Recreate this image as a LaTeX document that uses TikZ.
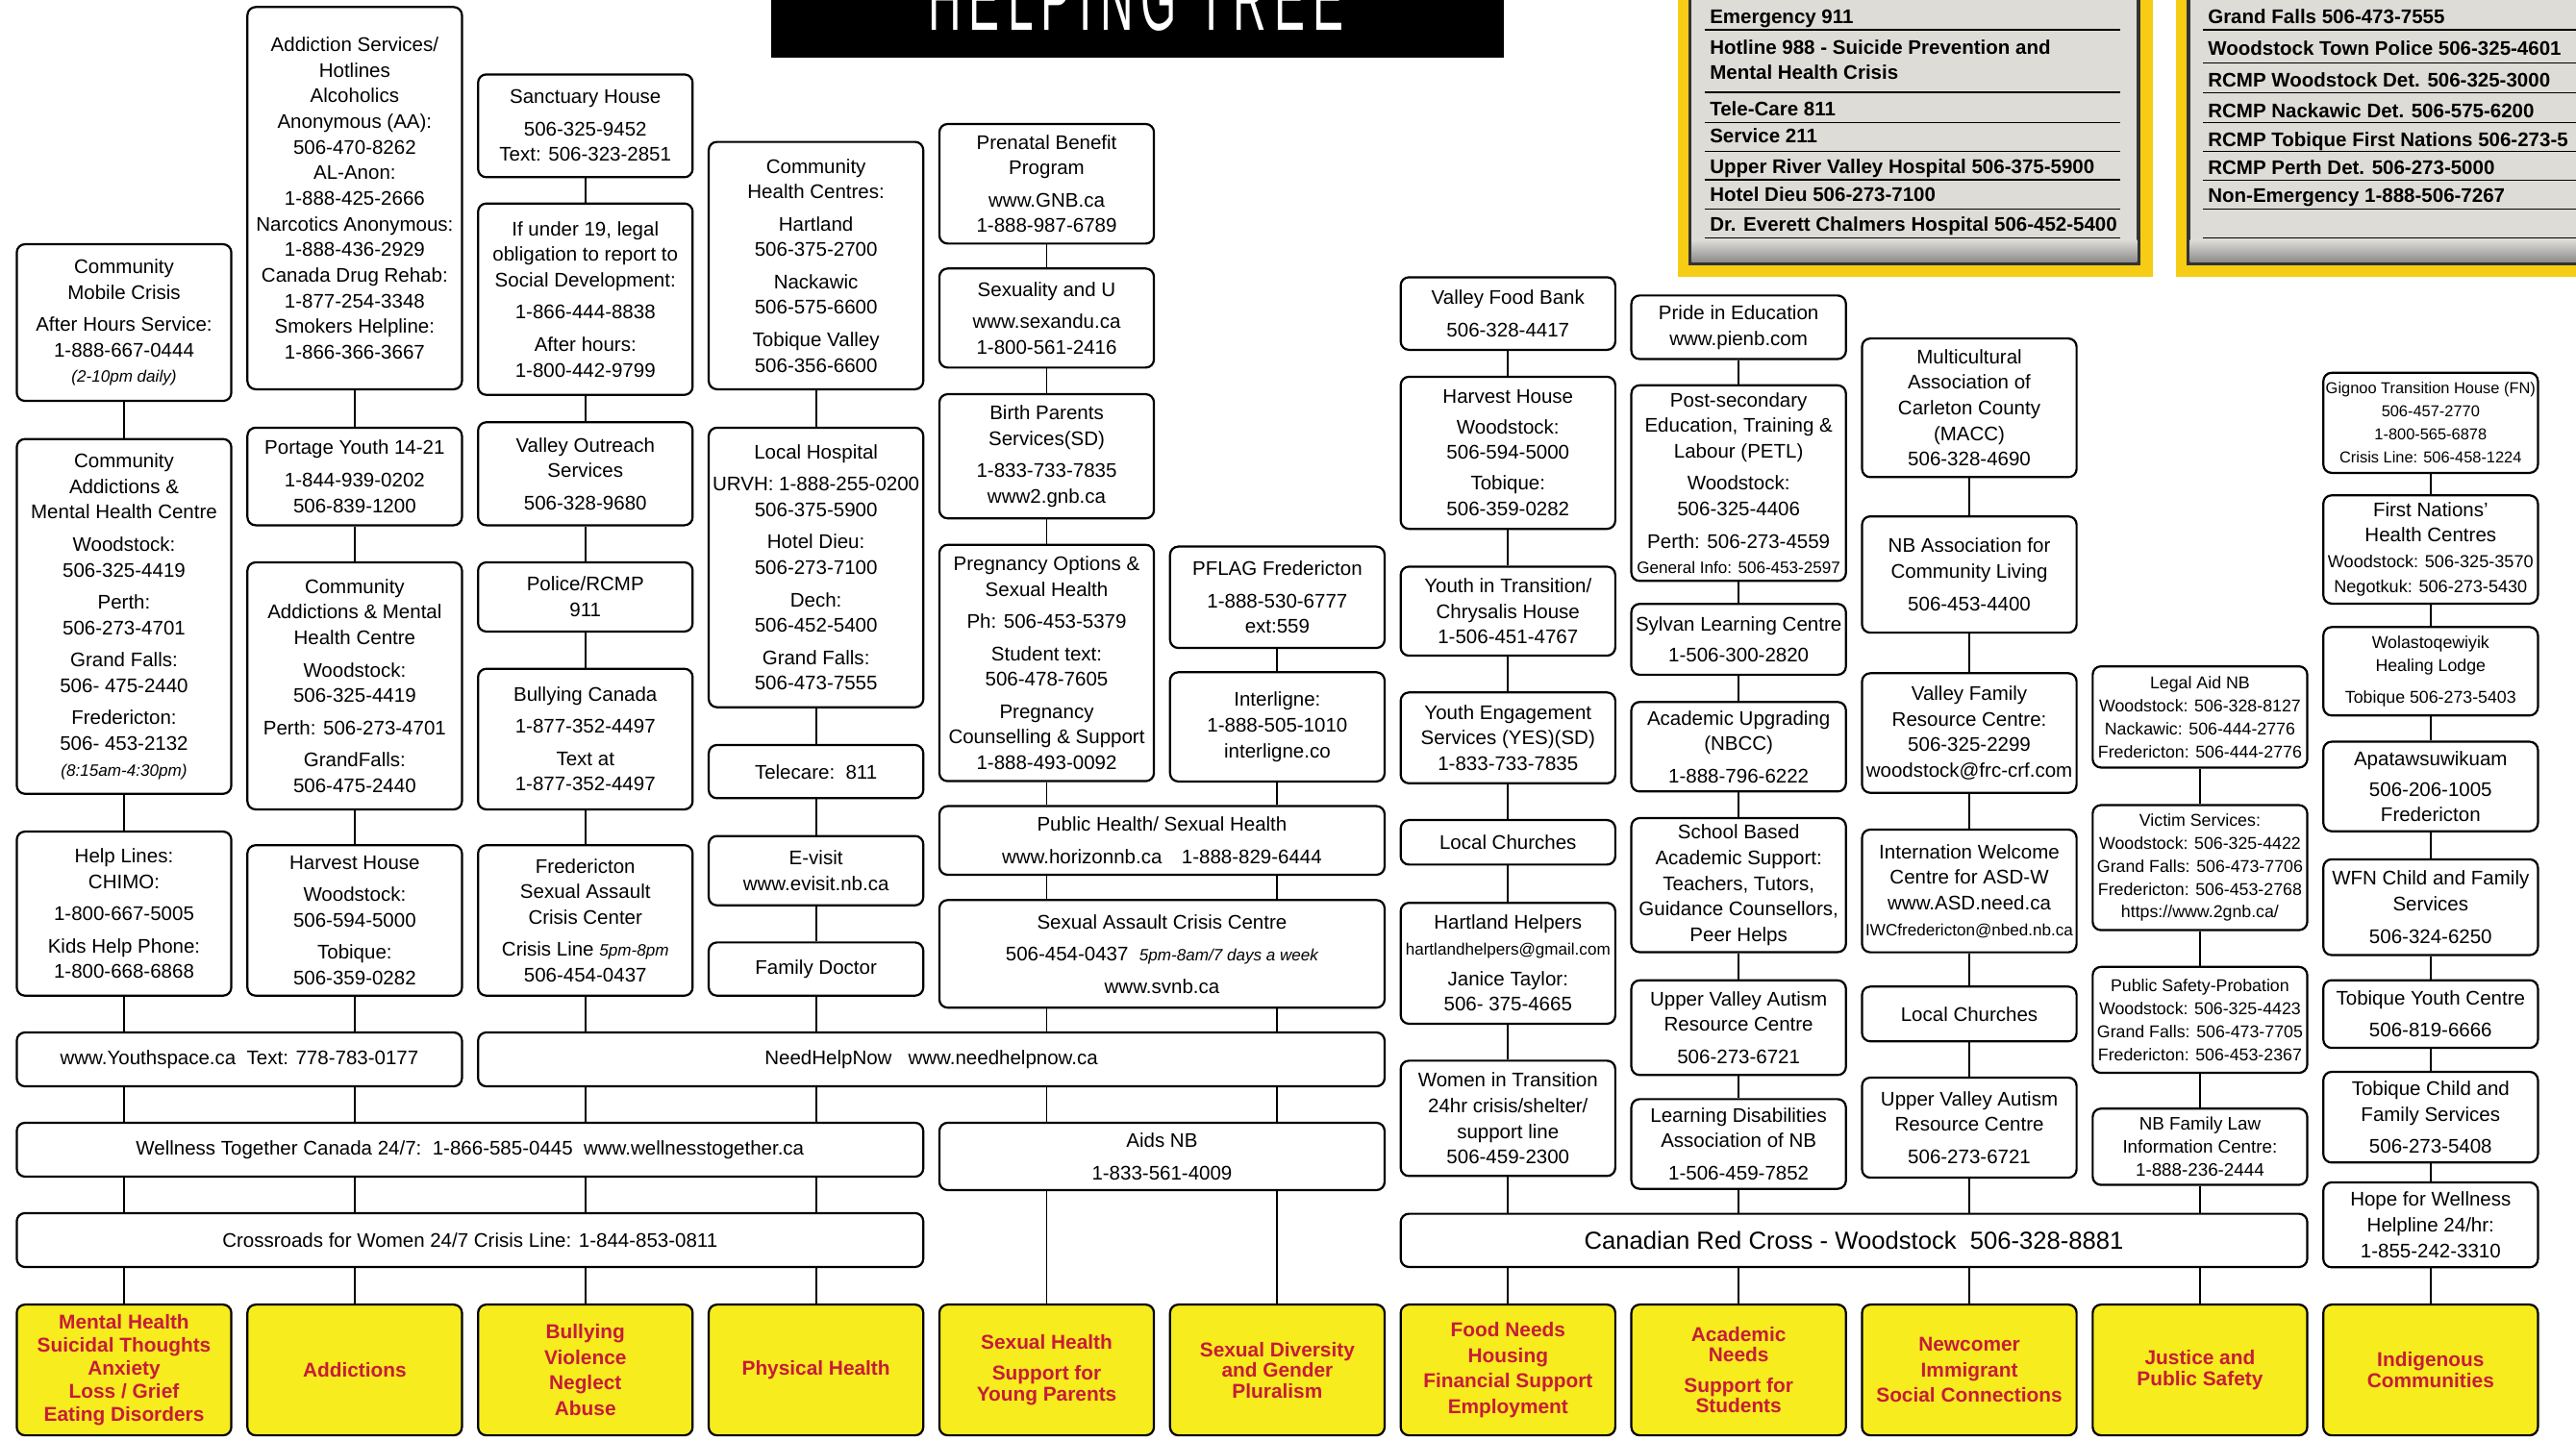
\documentclass[tikz,border=0pt]{standalone}
\usepackage{fontspec}
\setmainfont{Liberation Sans}
\usetikzlibrary{positioning}
\definecolor{needyellow}{RGB}{246,236,30}
\definecolor{needred}{RGB}{198,28,56}
\definecolor{panelyellow}{RGB}{247,204,20}
\definecolor{paper}{RGB}{221,220,215}
\newcommand{\hrs}[1]{{\itshape\fontsize{10}{13}\selectfont #1}}
\newcommand{\smtxt}[1]{{\fontsize{10}{13}\selectfont #1}}

\begin{document}
\begin{tikzpicture}[x=1pt,y=-1pt,
  box/.style={draw,rounded corners=5pt,line width=1.3pt,fill=white,align=center,
    inner sep=1pt,minimum width=130.6pt,font=\fontsize{12}{15.6}\selectfont},
  sbox/.style={box,font=\fontsize{10.4}{14}\selectfont},
  bar/.style={box,minimum height=32.8pt},
  need/.style={box,fill=needyellow,text=needred,minimum height=79.6pt,
    font=\bfseries\fontsize{12.2}{12.6}\selectfont},
  link/.style={line width=1.1pt},
  ptext/.style={anchor=base west,inner sep=0pt,font=\bfseries\fontsize{12}{14}\selectfont},
  prule/.style={line width=0.9pt},
  ]
  \useasboundingbox (0,0) rectangle (1568,877);
  \clip (0,0) rectangle (1568,877);

  % title
  \fill[black] (469.4,-2) rectangle (915.4,35.1);
  \begin{scope}
    \clip (469.4,-2) rectangle (915.4,35.1);
    \node[anchor=base,text=white,inner sep=0pt,font=\fontsize{56}{60}\selectfont] (title) at (691.5,18.5)
      {\scalebox{0.5}[1]{\addfontfeature{LetterSpace=17}HELPING TREE}};
  \end{scope}

  % phone lists
  \fill[panelyellow] (1021.5,-5) rectangle (1310.4,168.8);
  \fill[panelyellow] (1324.7,-5) rectangle (1575,168.8);
  \filldraw[fill=paper,draw=black!80,line width=2pt] (1028.7,-5) rectangle (1301.7,160.4);
  \filldraw[fill=paper,draw=black!80,line width=2pt] (1332,-5) rectangle (1580,160.4);
  \shade[top color=paper,bottom color=black!45] (1029.7,146) rectangle (1300.7,159.4);
  \shade[top color=paper,bottom color=black!45] (1333,146) rectangle (1579,159.4);
  \foreach \y in {18,56.2,74.5,92.1,109.6,127.2,144.8}
    \draw[prule] (1037.5,\y) -- (1290.5,\y);
  \foreach \y in {18,38.4,56.6,74.5,92.1,109.8,127.2,144.8}
    \draw[prule] (1341,\y) -- (1570,\y);
  \node[ptext] (em911) at (1040.6,14.4) {Emergency 911};
  \node[ptext] (hot988) at (1040.6,33.2) {Hotline 988 - Suicide Prevention and};
  \node[ptext] (hot988b) at (1040.6,48.2) {Mental Health Crisis};
  \node[ptext] (tele811) at (1040.6,70.3) {Tele-Care 811};
  \node[ptext] (serv211) at (1040.6,87.2) {Service 211};
  \node[ptext] (urvh) at (1040.6,105.7) {Upper River Valley Hospital 506-375-5900};
  \node[ptext] (dieu) at (1040.6,122.7) {Hotel Dieu 506-273-7100};
  \node[ptext] (dech) at (1040.6,140.9) {Dr. Everett Chalmers Hospital 506-452-5400};
  \node[ptext] (gfalls) at (1343.8,14.1) {Grand Falls 506-473-7555};
  \node[ptext] (wtp) at (1343.8,33.6) {Woodstock Town Police 506-325-4601};
  \node[ptext] (rcmpw) at (1343.8,52.7) {RCMP Woodstock Det. 506-325-3000};
  \node[ptext] (rcmpn) at (1343.8,71.6) {RCMP Nackawic Det. 506-575-6200};
  \node[ptext] (rcmpt) at (1343.8,89.2) {RCMP Tobique First Nations 506-273-5};
  \node[ptext] (rcmpp) at (1343.8,106.1) {RCMP Perth Det. 506-273-5000};
  \node[ptext] (nonem) at (1343.8,123.3) {Non-Emergency 1-888-506-7267};

  % column 1
  \node[box,minimum height=95.4pt] (mobile) at (75.5,196.4)
    {Community\\Mobile Crisis\\[4pt]After Hours Service:\\1-888-667-0444\\\hrs{(2-10pm daily)}};
  \node[box,minimum height=216pt] (camhcA) at (75.5,375.3)
    {Community\\Addictions \&\\Mental Health Centre\\[4pt]Woodstock:\\506-325-4419\\[4pt]Perth:\\506-273-4701\\[4pt]Grand Falls:\\506- 475-2440\\[4pt]Fredericton:\\506- 453-2132\\\hrs{(8:15am-4:30pm)}};
  \node[box,minimum height=99.9pt] (helplines) at (75.5,556.25)
    {Help Lines:\\CHIMO:\\[4pt]1-800-667-5005\\[4pt]Kids Help Phone:\\1-800-668-6868};

  % column 2
  \node[box,minimum height=232.7pt] (addserv) at (215.9,120.65)
    {Addiction Services/\\Hotlines\\Alcoholics\\Anonymous (AA):\\506-470-8262\\AL-Anon:\\1-888-425-2666\\Narcotics Anonymous:\\1-888-436-2929\\Canada Drug Rehab:\\1-877-254-3348\\Smokers Helpline:\\1-866-366-3667};
  \node[box,minimum height=59.4pt] (portage) at (215.9,290.1)
    {Portage Youth 14-21\\[4pt]1-844-939-0202\\506-839-1200};
  \node[box,minimum height=150.4pt] (camhcB) at (215.9,417.6)
    {Community\\Addictions \& Mental\\Health Centre\\[4pt]Woodstock:\\506-325-4419\\[4pt]Perth: 506-273-4701\\[4pt]GrandFalls:\\506-475-2440};
  \node[box,minimum height=91.6pt] (harvestA) at (215.9,560.4)
    {Harvest House\\[4pt]Woodstock:\\506-594-5000\\[4pt]Tobique:\\506-359-0282};

  % column 3
  \node[box,minimum height=62.6pt] (sanctuary) at (356.3,76.6)
    {Sanctuary House\\[4pt]506-325-9452\\Text: 506-323-2851};
  \node[box,minimum height=116.5pt] (under19) at (356.3,182.15)
    {If under 19, legal\\obligation to report to\\Social Development:\\[4pt]1-866-444-8838\\[4pt]After hours:\\1-800-442-9799};
  \node[box,minimum height=62.7pt] (outreach) at (356.3,288.45)
    {Valley Outreach\\Services\\[4pt]506-328-9680};
  \node[box,minimum height=42.1pt] (police) at (356.3,363.45) {Police/RCMP\\911};
  \node[box,minimum height=85.6pt] (bullying) at (356.3,450)
    {Bullying Canada\\[4pt]1-877-352-4497\\[4pt]Text at\\1-877-352-4497};
  \node[box,minimum height=91.6pt] (fsacc) at (356.3,560.4)
    {Fredericton\\Sexual Assault\\Crisis Center\\[4pt]Crisis Line \hrs{5pm-8pm}\\506-454-0437};

  % column 4
  \node[box,minimum height=150.6pt] (chc) at (496.7,161.7)
    {Community\\Health Centres:\\[4pt]Hartland\\506-375-2700\\[4pt]Nackawic\\506-575-6600\\[4pt]Tobique Valley\\506-356-6600};
  \node[box,minimum height=170.2pt] (hospital) at (496.7,345.5)
    {Local Hospital\\[4pt]URVH: 1-888-255-0200\\506-375-5900\\[4pt]Hotel Dieu:\\506-273-7100\\[4pt]Dech:\\506-452-5400\\[4pt]Grand Falls:\\506-473-7555};
  \node[box,minimum height=32.4pt] (telecare) at (496.7,469.8) {Telecare:~~811};
  \node[box,minimum height=42.2pt] (evisit) at (496.7,530.1) {E-visit\\www.evisit.nb.ca};
  \node[box,minimum height=32.4pt] (doctor) at (496.7,590) {Family Doctor};

  % columns 5 and 6
  \node[box,minimum height=72.8pt] (prenatal) at (637.1,111.9)
    {Prenatal Benefit\\Program\\[4pt]www.GNB.ca\\1-888-987-6789};
  \node[box,minimum height=60.3pt] (sexu) at (637.1,193.65)
    {Sexuality and U\\[4pt]www.sexandu.ca\\1-800-561-2416};
  \node[box,minimum height=75.6pt] (birth) at (637.1,277.8)
    {Birth Parents\\Services(SD)\\[4pt]1-833-733-7835\\www2.gnb.ca};
  \node[box,minimum height=143.9pt] (pregopt) at (637.1,403.65)
    {Pregnancy Options \&\\Sexual Health\\[4pt]Ph: 506-453-5379\\[4pt]Student text:\\506-478-7605\\[4pt]Pregnancy\\Counselling \& Support\\1-888-493-0092};
  \node[box,minimum height=61.7pt] (pflag) at (777.5,363.65)
    {PFLAG Fredericton\\[4pt]1-888-530-6777\\ext:559};
  \node[box,minimum height=66.5pt] (interligne) at (777.5,442.55)
    {Interligne:\\1-888-505-1010\\interligne.co};
  \node[box,minimum width=271pt,minimum height=41.8pt] (pubhealth) at (707.3,511.7)
    {Public Health/ Sexual Health\\[4pt]www.horizonnb.ca\quad 1-888-829-6444};
  \node[box,minimum width=271pt,minimum height=65.5pt] (sacc) at (707.3,580.75)
    {Sexual Assault Crisis Centre\\[4pt]506-454-0437~~\hrs{5pm-8am/7 days a week}\\[4pt]www.svnb.ca};

  % wide bars
  \node[bar,minimum width=271pt] (youthspace) at (145.7,645)
    {www.Youthspace.ca~~Text: 778-783-0177};
  \node[bar,minimum width=551.8pt] (needhelp) at (566.9,645)
    {NeedHelpNow~~~www.needhelpnow.ca};
  \node[bar,minimum width=551.8pt] (wellness) at (286.1,700)
    {Wellness Together Canada 24/7:~~1-866-585-0445~~www.wellnesstogether.ca};
  \node[box,minimum width=271pt,minimum height=41pt] (aids) at (707.3,704.1)
    {Aids NB\\[4pt]1-833-561-4009};
  \node[bar,minimum width=551.8pt] (crossroads) at (286.1,755)
    {Crossroads for Women 24/7 Crisis Line: 1-844-853-0811};
  \node[bar,minimum width=551.8pt,minimum height=32.4pt,font=\fontsize{15}{18}\selectfont] (redcross) at (1128.5,755.2)
    {Canadian Red Cross - Woodstock~~506-328-8881};

  % column 7
  \node[box,minimum height=44.2pt] (foodbank) at (917.9,190.9) {Valley Food Bank\\[4pt]506-328-4417};
  \node[box,minimum height=92.6pt] (harvestB) at (917.9,275.7)
    {Harvest House\\[3pt]Woodstock:\\506-594-5000\\[3pt]Tobique:\\506-359-0282};
  \node[box,minimum height=54.2pt] (yit) at (917.9,372.1)
    {Youth in Transition/\\Chrysalis House\\1-506-451-4767};
  \node[box,minimum height=55.3pt] (yes) at (917.9,449.25)
    {Youth Engagement\\Services (YES)(SD)\\1-833-733-7835};
  \node[box,minimum height=27.1pt] (churchA) at (917.9,512.85) {Local Churches};
  \node[box,minimum height=73.6pt] (hartland) at (917.9,586.5)
    {Hartland Helpers\\\smtxt{hartlandhelpers@gmail.com}\\[3pt]Janice Taylor:\\506- 375-4665};
  \node[box,minimum height=70.2pt] (wit) at (917.9,680.9)
    {Women in Transition\\24hr crisis/shelter/\\support line\\506-459-2300};

  % column 8
  \node[box,minimum height=38.7pt] (pride) at (1058.3,199.25) {Pride in Education\\www.pienb.com};
  \node[box,minimum height=119.1pt] (petl) at (1058.3,294.15)
    {Post-secondary\\Education, Training \&\\Labour (PETL)\\[4pt]Woodstock:\\506-325-4406\\[4pt]Perth: 506-273-4559\\\smtxt{General Info: 506-453-2597}};
  \node[box,minimum height=43.1pt] (sylvan) at (1058.3,389.25) {Sylvan Learning Centre\\[3pt]1-506-300-2820};
  \node[box,minimum height=54.5pt] (upgrading) at (1058.3,454.65)
    {Academic Upgrading\\(NBCC)\\[4pt]1-888-796-6222};
  \node[box,minimum height=81.6pt] (school) at (1058.3,538.9)
    {School Based\\Academic Support:\\Teachers, Tutors,\\Guidance Counsellors,\\Peer Helps};
  \node[box,minimum height=57.6pt] (autismA) at (1058.3,625.7)
    {Upper Valley Autism\\Resource Centre\\[4pt]506-273-6721};
  \node[box,minimum height=54.6pt] (learning) at (1058.3,696.5)
    {Learning Disabilities\\Association of NB\\[4pt]1-506-459-7852};

  % column 9
  \node[box,minimum height=84.4pt] (macc) at (1198.7,248.3)
    {Multicultural\\Association of\\Carleton County\\(MACC)\\506-328-4690};
  \node[box,minimum height=70.8pt] (nbacl) at (1198.7,349.8)
    {NB Association for\\Community Living\\[4pt]506-453-4400};
  \node[box,minimum height=72.8pt] (valleyfam) at (1198.7,446.3)
    {Valley Family\\Resource Centre:\\506-325-2299\\woodstock@frc-crf.com};
  \node[box,minimum height=74.7pt] (iwc) at (1198.7,542.45)
    {Internation Welcome\\Centre for ASD-W\\www.ASD.need.ca\\\smtxt{IWCfredericton@nbed.nb.ca}};
  \node[box,minimum height=33.3pt] (churchB) at (1198.7,617.35) {Local Churches};
  \node[box,minimum height=60.9pt] (autismB) at (1198.7,686.55)
    {Upper Valley Autism\\Resource Centre\\[4pt]506-273-6721};

  % column 10
  \node[sbox,minimum height=61.6pt] (legalaid) at (1339.1,436.5)
    {Legal Aid NB\\Woodstock: 506-328-8127\\Nackawic: 506-444-2776\\Fredericton: 506-444-2776};
  \node[sbox,minimum height=76.1pt] (victim) at (1339.1,528.25)
    {Victim Services:\\Woodstock: 506-325-4422\\Grand Falls: 506-473-7706\\Fredericton: 506-453-2768\\https://www.2gnb.ca/};
  \node[sbox,minimum height=64.5pt] (probation) at (1339.1,620.95)
    {Public Safety-Probation\\Woodstock: 506-325-4423\\Grand Falls: 506-473-7705\\Fredericton: 506-453-2367};
  \node[box,minimum height=46.4pt,font=\fontsize{11}{14}\selectfont] (familylaw) at (1339.1,698.2)
    {NB Family Law\\Information Centre:\\1-888-236-2444};

  % column 11
  \node[box,minimum height=60.9pt,font=\fontsize{9.6}{14}\selectfont] (gignoo) at (1479.5,257.45)
    {Gignoo Transition House (FN)\\506-457-2770\\1-800-565-6878\\Crisis Line: 506-458-1224};
  \node[box,minimum height=65.9pt,font=\fontsize{12}{15.4}\selectfont] (firstnations) at (1479.5,334.55)
    {First Nations'\\Health Centres\\{\fontsize{10.6}{14}\selectfont Woodstock: 506-325-3570}\\{\fontsize{10.6}{14}\selectfont Negotkuk: 506-273-5430}};
  \node[sbox,minimum height=53.8pt] (wolastoq) at (1479.5,408.7)
    {Wolastoqewiyik\\Healing Lodge\\[5pt]Tobique 506-273-5403};
  \node[box,minimum height=54.5pt] (apatawsu) at (1479.5,478.85)
    {Apatawsuwikuam\\[3pt]506-206-1005\\Fredericton};
  \node[box,minimum height=58.3pt] (wfn) at (1479.5,552.35)
    {WFN Child and Family\\Services\\[4pt]506-324-6250};
  \node[box,minimum height=41.2pt] (tobyouth) at (1479.5,617.4)
    {Tobique Youth Centre\\[4pt]506-819-6666};
  \node[box,minimum height=55.2pt] (tobchild) at (1479.5,680.2)
    {Tobique Child and\\Family Services\\[4pt]506-273-5408};
  \node[box,minimum height=51.7pt] (hope) at (1479.5,745.75)
    {Hope for Wellness\\Helpline 24/hr:\\1-855-242-3310};

  % needs
  \node[need] (need1) at (75.5,834.1)
    {Mental Health\\[1.4pt]Suicidal Thoughts\\[1.4pt]Anxiety\\[1.4pt]Loss / Grief\\[1.4pt]Eating Disorders};
  \node[need] (need2) at (215.9,834.1) {Addictions};
  \node[need] (need3) at (356.3,834.1) {Bullying\\[3pt]Violence\\[3pt]Neglect\\[3pt]Abuse};
  \node[need] (need4) at (496.7,834.1) {Physical Health};
  \node[need] (need5) at (637.1,834.1) {Sexual Health\\[6pt]Support for\\Young Parents};
  \node[need] (need6) at (777.5,834.1) {Sexual Diversity\\and Gender\\Pluralism};
  \node[need] (need7) at (917.9,834.1)
    {Food Needs\\[3pt]Housing\\[3pt]Financial Support\\[3pt]Employment};
  \node[need] (need8) at (1058.3,834.1) {Academic\\Needs\\[6pt]Support for\\Students};
  \node[need] (need9) at (1198.7,834.1) {Newcomer\\[3pt]Immigrant\\[3pt]Social Connections};
  \node[need] (need10) at (1339.1,834.1) {Justice and\\Public Safety};
  \node[need] (need11) at (1479.5,834.1) {Indigenous\\Communities};

  \foreach \i/\x in {1/75.5,2/215.9,3/356.3,4/496.7,5/637.1,6/777.5,7/917.9,8/1058.3,9/1198.7,10/1339.1,11/1479.5}
    \coordinate (c\i) at (\x,0);

  % links inside a column
  \foreach \a/\b in {mobile/camhcA,camhcA/helplines,
    addserv/portage,portage/camhcB,camhcB/harvestA,
    sanctuary/under19,under19/outreach,outreach/police,police/bullying,bullying/fsacc,
    chc/hospital,hospital/telecare,telecare/evisit,evisit/doctor,
    prenatal/sexu,sexu/birth,birth/pregopt,pflag/interligne,
    foodbank/harvestB,harvestB/yit,yit/yes,yes/churchA,churchA/hartland,hartland/wit,
    pride/petl,petl/sylvan,sylvan/upgrading,upgrading/school,school/autismA,autismA/learning,
    macc/nbacl,nbacl/valleyfam,valleyfam/iwc,iwc/churchB,churchB/autismB,
    legalaid/victim,victim/probation,probation/familylaw,
    gignoo/firstnations,firstnations/wolastoq,wolastoq/apatawsu,apatawsu/wfn,
    wfn/tobyouth,tobyouth/tobchild,tobchild/hope,hope/need11}
    \draw[link] (\a) -- (\b);

  % links onto and between the wide bars
  \foreach \c/\a/\b in {1/helplines/youthspace,2/harvestA/youthspace,
    3/fsacc/needhelp,4/doctor/needhelp,5/pregopt/pubhealth,6/interligne/pubhealth,
    1/youthspace/wellness,2/youthspace/wellness,3/needhelp/wellness,4/needhelp/wellness,
    1/wellness/crossroads,2/wellness/crossroads,3/wellness/crossroads,4/wellness/crossroads,
    1/crossroads/need1,2/crossroads/need2,3/crossroads/need3,4/crossroads/need4,
    5/pubhealth/sacc,6/pubhealth/sacc,5/sacc/needhelp,6/sacc/needhelp,
    5/needhelp/aids,6/needhelp/aids,5/aids/need5,6/aids/need6,
    7/wit/redcross,8/learning/redcross,9/autismB/redcross,10/familylaw/redcross,
    7/redcross/need7,8/redcross/need8,9/redcross/need9,10/redcross/need10}
    \draw[link] (c\c |- \a.south) -- (c\c |- \b.north);
\end{tikzpicture}
\end{document}
